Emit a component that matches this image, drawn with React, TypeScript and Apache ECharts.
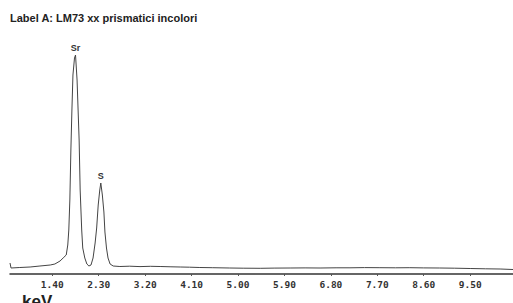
import React, { useEffect, useRef } from "react";
import * as echarts from "echarts";

const titleText = "Label A: LM73 xx prismatici incolori";
const axisName = "keV";
const tickValues = [1.4, 2.3, 3.2, 4.1, 5.0, 5.9, 6.8, 7.7, 8.6, 9.5];

// spectrum energy (keV) and counts
const energy = [
  0.58, 0.6, 0.77, 0.97, 1.16, 1.36, 1.45, 1.55, 1.61, 1.67,
  1.7, 1.72, 1.74, 1.76, 1.78, 1.8, 1.83, 1.85, 1.88, 1.9,
  1.92, 1.94, 1.97, 1.99, 2.03, 2.07, 2.11, 2.15, 2.19, 2.23,
  2.26, 2.29, 2.32, 2.34, 2.37, 2.4, 2.42, 2.45, 2.48, 2.52,
  2.58, 2.71, 2.9, 3.1, 3.3, 3.49, 3.7, 3.88, 4.06, 4.26,
  4.5, 4.84, 5.1, 5.43, 5.7, 6.01, 6.3, 6.59, 6.9, 7.17,
  7.45, 7.75, 8.05, 8.33, 8.6, 8.91, 9.2, 9.5, 9.8, 10.08, 10.33,
];
const counts = [
  110, 60, 65, 70, 80, 90, 100, 130, 160, 190,
  290, 440, 740, 1240, 1640, 1990, 2160, 2190, 1940, 1640,
  1340, 840, 440, 260, 160, 100, 80, 90, 160, 310,
  460, 690, 840, 910, 790, 620, 420, 260, 160, 100,
  80, 75, 78, 74, 77, 75, 72, 70, 68, 65,
  63, 60, 58, 57, 59, 60, 61, 60, 62, 62,
  64, 63, 62, 63, 61, 60, 58, 55, 52, 50, 45,
];

const peakNames = ["Sr", "S"];
const peakEnergy = [1.85, 2.34];
const peakCounts = [2190, 910];

export default function App() {
  const ref = useRef<HTMLDivElement>(null);
  useEffect(() => {
    if (!ref.current) return;
    const chart = echarts.init(ref.current, null, { renderer: "svg" });
    const data = energy.map((e, i) => [e, counts[i]]);
    chart.setOption({
      animation: false,
      backgroundColor: "#ffffff",
      title: {
        text: titleText,
        left: 5,
        top: 7,
        textStyle: {
          fontFamily: "Liberation Sans",
          fontWeight: "bold",
          fontSize: 11,
          color: "#222",
        },
      },
      grid: { left: 10, right: 0, top: 40, bottom: 29 },
      xAxis: {
        type: "value",
        min: 0.58,
        max: 10.33,
        axisLine: { show: true, lineStyle: { color: "#333", width: 1.5 } },
        axisTick: {
          show: true,
          length: 2,
          customValues: tickValues,
          lineStyle: { color: "#555" },
        },
        axisLabel: {
          customValues: tickValues,
          formatter: (v: number) => v.toFixed(2),
          fontFamily: "DejaVu Sans Mono",
          fontWeight: "bold",
          fontSize: 9.5,
          color: "#333",
          margin: 5,
        },
        splitLine: { show: false },
      },
      yAxis: {
        type: "value",
        min: 0,
        max: 2340,
        show: false,
        splitLine: { show: false },
      },
      graphic: [
        {
          type: "text",
          left: 22,
          top: 293,
          style: {
            text: axisName,
            fontFamily: "Liberation Sans",
            fontWeight: "bold",
            fontSize: 17,
            fill: "#222",
          },
        },
      ],
      series: [
        {
          type: "line",
          data,
          showSymbol: false,
          symbol: "none",
          lineStyle: { color: "#444", width: 1 },
          markPoint: {
            symbol: "circle",
            symbolSize: 0,
            data: peakNames.map((n, i) => ({
              name: n,
              coord: [peakEnergy[i], peakCounts[i]],
              value: n,
            })),
            label: {
              show: true,
              position: "top",
              distance: 3,
              formatter: (p: any) => p.name,
              fontFamily: "Liberation Sans",
              fontWeight: "bold",
              fontSize: 9,
              color: "#333",
            },
          },
        },
      ],
    });
    return () => chart.dispose();
  }, []);
  return (
    <div
      ref={ref}
      style={{ position: "fixed", left: 0, top: 0, width: 513, height: 303 }}
    />
  );
}
